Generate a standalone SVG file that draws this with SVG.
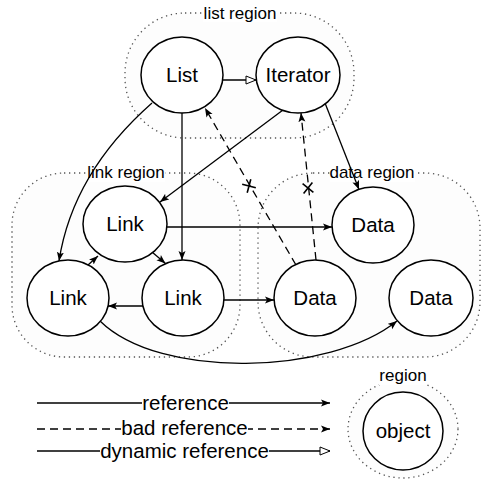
<svg xmlns="http://www.w3.org/2000/svg" width="482" height="481" viewBox="0 0 482 481">
<style>
.region{fill:#fdfdfd;stroke:#555;stroke-width:1.3;stroke-dasharray:1.3 3.7}
.node{fill:#fff;stroke:#000;stroke-width:1.5}
.lbl{font-family:"Liberation Sans",Arial,sans-serif;font-size:20.5px;text-anchor:middle;fill:#000}
.rlbl{font-family:"Liberation Sans",Arial,sans-serif;font-size:17px;text-anchor:middle;fill:#000}
.bg{fill:#fff}
.ref{fill:none;stroke:#000;stroke-width:1.3;marker-end:url(#arr)}
.bad{fill:none;stroke:#000;stroke-width:1.3;stroke-dasharray:8 5;marker-end:url(#arr)}
.dyn{fill:none;stroke:#000;stroke-width:1.3;marker-end:url(#open)}
.x{fill:none;stroke:#000;stroke-width:1.6}
</style>
<defs>
<marker id="arr" markerWidth="10" markerHeight="8" refX="9" refY="4" orient="auto" markerUnits="userSpaceOnUse"><path d="M0,0.5 L9,4 L0,7.5 L2,4 z" fill="#000"/></marker>
<marker id="open" markerWidth="12" markerHeight="10" refX="11" refY="5" orient="auto" markerUnits="userSpaceOnUse"><path d="M1,1 L11,5 L1,9 z" fill="#fff" stroke="#000" stroke-width="1"/></marker>
</defs>
<rect width="482" height="481" fill="#fff"/>
<g id="regions">
<rect id="list-region" class="region" x="125" y="13" width="229" height="125" rx="60" ry="60"/>
<rect id="link-region" class="region" x="12" y="173" width="228" height="184" rx="52" ry="52"/>
<rect id="data-region" class="region" x="258" y="173" width="222" height="184" rx="55" ry="55"/>
<ellipse id="legend-region" class="region" cx="403" cy="429" rx="55" ry="49"/>
<rect class="bg" x="203" y="5" width="74" height="17"/>
<text class="rlbl" x="240" y="19">list region</text>
<rect class="bg" x="87" y="165" width="78" height="17"/>
<text class="rlbl" x="126" y="178">link region</text>
<rect class="bg" x="330" y="165" width="85" height="17"/>
<text class="rlbl" x="372" y="178">data region</text>
<rect class="bg" x="379" y="368" width="48" height="17"/>
<text class="rlbl" x="403" y="381">region</text>
</g>
<g id="connectors">
<path class="dyn" d="M223,80 L256,80"/>
<path class="ref" d="M152,103 C110,140 70,190 59,261"/>
<path class="ref" d="M182,113 L182,260"/>
<path class="ref" d="M283,110 L160,202"/>
<path class="ref" d="M325,103 L359,189.5"/>
<path class="ref" d="M167,227 L332,227"/>
<path class="ref" d="M152,252 L165.5,263.5"/>
<path class="ref" d="M88,265 L98,256"/>
<path class="ref" d="M143,306 L108,306"/>
<path class="ref" d="M224,300 L274,300"/>
<path class="ref" d="M100,321 C160,380 330,375 397,321"/>
<path class="bad" d="M296,265 L205,108"/>
<path class="bad" d="M316,260 L301,113"/>
<path class="x" d="M247.2,192.8 L250.8,179.2 M242.2,184.2 L255.8,187.8"/>
<path class="x" d="M303.6,193.4 L312.4,182.6 M302.6,183.6 L313.4,192.4"/>
</g>
<g id="List"><ellipse class="node" cx="182" cy="75" rx="41" ry="38"/><text class="lbl" x="182" y="82.3">List</text></g>
<g id="Iterator"><ellipse class="node" cx="298" cy="75" rx="42" ry="38"/><text class="lbl" x="298" y="82.3">Iterator</text></g>
<g id="Link1"><ellipse class="node" cx="125" cy="224" rx="42" ry="38"/><text class="lbl" x="125" y="231.3">Link</text></g>
<g id="Link2"><ellipse class="node" cx="68" cy="298" rx="41" ry="38"/><text class="lbl" x="68" y="305.3">Link</text></g>
<g id="Link3"><ellipse class="node" cx="183" cy="298" rx="41" ry="38"/><text class="lbl" x="183" y="305.3">Link</text></g>
<g id="Data1"><ellipse class="node" cx="373" cy="225" rx="41" ry="38"/><text class="lbl" x="373" y="232.3">Data</text></g>
<g id="Data2"><ellipse class="node" cx="315" cy="298" rx="41" ry="38"/><text class="lbl" x="315" y="305.3">Data</text></g>
<g id="Data3"><ellipse class="node" cx="431" cy="298" rx="42" ry="38"/><text class="lbl" x="431" y="305.3">Data</text></g>
<g id="legend">
<path class="ref" d="M37,403 L330,403"/>
<rect class="bg" x="142" y="392" width="87" height="20"/>
<text class="lbl" x="185.5" y="409.5">reference</text>
<path class="bad" d="M37,429 L330,429"/>
<rect class="bg" x="121" y="418" width="127" height="20"/>
<text class="lbl" x="184.5" y="435">bad reference</text>
<path class="dyn" d="M37,451 L330,451"/>
<rect class="bg" x="100" y="440" width="169" height="20"/>
<text class="lbl" x="184.5" y="457.5">dynamic reference</text>
</g>
<g id="object"><ellipse class="node" cx="403" cy="431" rx="40" ry="39"/><text class="lbl" x="403" y="437.5">object</text></g>
</svg>
